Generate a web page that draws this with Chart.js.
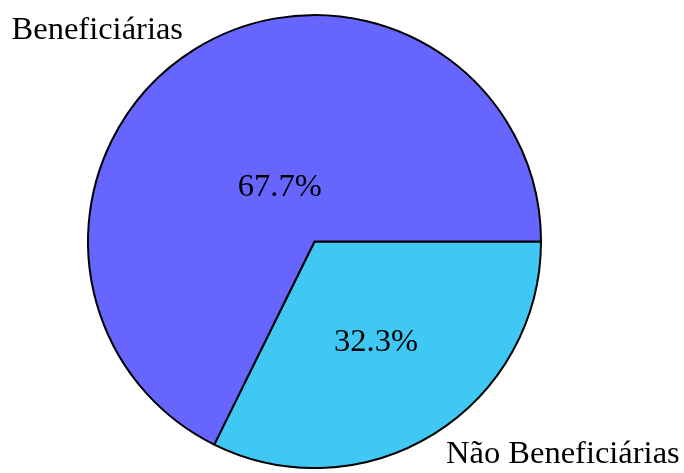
<!DOCTYPE html>
<html>
<head>
<meta charset="utf-8">
<script src="https://cdn.jsdelivr.net/npm/chart.js@4"></script>
<style>
  html, body { margin: 0; padding: 0; background: #fff; }
  #wrap { width: 684px; height: 473px; position: relative; }
</style>
</head>
<body>
<div id="wrap"><canvas id="c_pie"></canvas></div>
<script>
// ── datos ──────────────────────────────────────────
const labels = ['Não Beneficiárias', 'Beneficiárias'];
const values = [32.3, 67.7];
const colors = ['#40c8f4', '#6666ff'];

const FONT = "'Liberation Serif', 'Times New Roman', serif";
const LABEL_DIST = 1.1;
const PCT_DIST = [0.515, 0.29];

// Etiquetas estilo matplotlib: nombre afuera, porcentaje adentro
const pieLabels = {
  id: 'pieLabels',
  afterDatasetsDraw(chart) {
    const ctx = chart.ctx;
    const meta = chart.getDatasetMeta(0);
    ctx.save();
    ctx.fillStyle = '#000';
    ctx.textBaseline = 'middle';
    meta.data.forEach((arc, i) => {
      const {x, y, startAngle, endAngle, outerRadius} = arc.getProps(['x', 'y', 'startAngle', 'endAngle', 'outerRadius'], true);
      const mid = (startAngle + endAngle) / 2;
      const cx = Math.cos(mid), cy = Math.sin(mid);

      ctx.font = '32.5px ' + FONT;
      const lx = x + cx * outerRadius * LABEL_DIST;
      const ly = y + cy * outerRadius * LABEL_DIST;
      ctx.textAlign = cx > 0 ? 'left' : 'right';
      ctx.fillText(labels[i], lx, ly + 1);

      ctx.textAlign = 'center';
      const pd = outerRadius * PCT_DIST[i];
      ctx.fillText(values[i].toFixed(1) + '%', x + cx * pd, y + cy * pd + 2);
    });
    ctx.restore();
  },
};

new Chart(document.getElementById('c_pie'), {
  type: 'pie',
  data: {
    labels,
    datasets: [{
      data: values,
      backgroundColor: colors,
      borderColor: '#000',
      borderWidth: 2,
      hoverOffset: 0,
    }],
  },
  options: {
    responsive: true,
    maintainAspectRatio: false,
    animation: false,
    rotation: 90,
    events: [],
    layout: {padding: {left: 87, right: 142, top: 14, bottom: 4}},
    plugins: {
      legend: {display: false},
      tooltip: {enabled: false},
    },
  },
  plugins: [pieLabels],
});
</script>
</body>
</html>
